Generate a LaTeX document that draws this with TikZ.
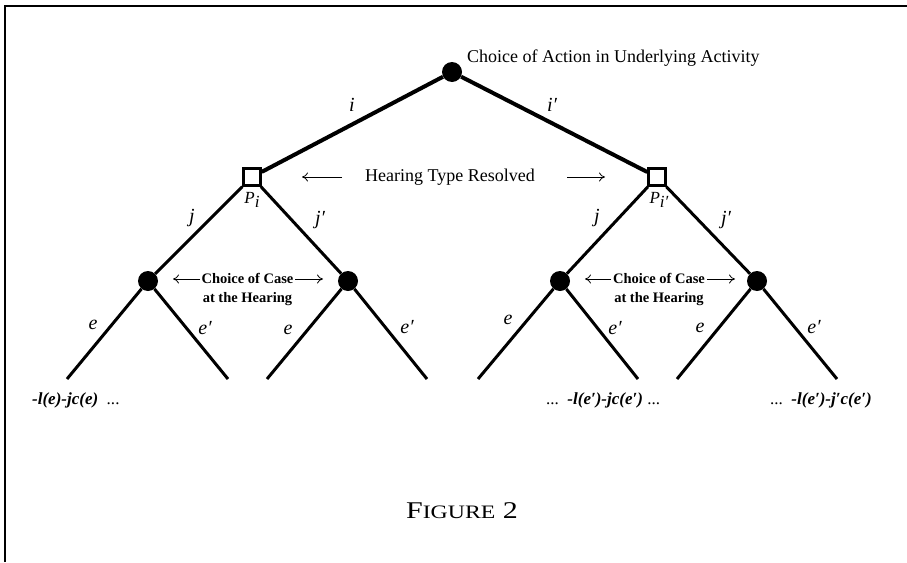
\documentclass[tikz,border=0pt]{standalone}
\usepackage{fontspec}
\setmainfont{Liberation Serif}
\usetikzlibrary{arrows.meta}
\begin{document}
\begin{tikzpicture}[x=1pt,y=-1pt,
  dot/.style={circle,fill=black,inner sep=0pt,minimum size=20pt},
  sq/.style={draw,line width=2.5pt,fill=white,inner sep=0pt,minimum size=17pt},
  edgeA/.style={line width=4pt},
  edgeB/.style={line width=3pt},
  lbl/.style={font=\fontsize{20}{20}\selectfont\itshape,inner sep=0pt},
  pay/.style={font=\fontsize{17}{17}\selectfont\bfseries\itshape,inner sep=0pt,anchor=west},
  ttl/.style={font=\fontsize{18}{18}\selectfont,inner sep=0pt},
  cas/.style={font=\fontsize{14.5}{19}\selectfont\bfseries,align=center,inner sep=0pt},
  harr/.style={-{To[length=6pt,width=9pt]},line width=0.8pt}]
\useasboundingbox (0,0) rectangle (907,562);
\draw[line width=2.5pt] (5,562) -- (5,6) -- (907,6);

% nodes
\node[dot] (r) at (452,72) {};
\node[sq] (pl) at (252,177) {};
\node[sq] (pr) at (657,177) {};
\node[dot] (c1) at (148,281) {};
\node[dot] (c2) at (348,281) {};
\node[dot] (c3) at (560,281) {};
\node[dot] (c4) at (757,281) {};
\coordinate (l1) at (67,379);
\coordinate (l2) at (228,379);
\coordinate (l3) at (267,379);
\coordinate (l4) at (427,379);
\coordinate (l5) at (478,379);
\coordinate (l6) at (638,379);
\coordinate (l7) at (677,379);
\coordinate (l8) at (837,379);

% edges
\draw[edgeA] (r) -- (pl);
\draw[edgeA] (r) -- (pr);
\draw[edgeB] (pl) -- (c1);
\draw[edgeB] (pl) -- (c2);
\draw[edgeB] (pr) -- (c3);
\draw[edgeB] (pr) -- (c4);
\draw[edgeB] (c1) -- (l1);
\draw[edgeB] (c1) -- (l2);
\draw[edgeB] (c2) -- (l3);
\draw[edgeB] (c2) -- (l4);
\draw[edgeB] (c3) -- (l5);
\draw[edgeB] (c3) -- (l6);
\draw[edgeB] (c4) -- (l7);
\draw[edgeB] (c4) -- (l8);

% edge labels
\node[lbl] (li) at (352,105) {i};
\node[lbl] (lip) at (552,105) {i′};
\node[lbl] (lj1) at (192,218) {j};
\node[lbl] (ljp1) at (320,220) {j′};
\node[lbl] (lj2) at (597,218) {j};
\node[lbl] (ljp2) at (726,220) {j′};
\node[lbl] (le1) at (93,325) {e};
\node[lbl] (lep1) at (205,328) {e′};
\node[lbl] (le2) at (288,330) {e};
\node[lbl] (lep2) at (407,327) {e′};
\node[lbl] (le3) at (508,320) {e};
\node[lbl] (lep3) at (615,328) {e′};
\node[lbl] (le4) at (700,328) {e};
\node[lbl] (lep4) at (814,327) {e′};

% player labels
\node[font=\fontsize{17}{17}\selectfont\itshape,inner sep=0pt] (pli) at (252,200) {P\raisebox{-4pt}{i}};
\node[font=\fontsize{17}{17}\selectfont\itshape,inner sep=0pt] (pri) at (659,200) {P\raisebox{-4pt}{i′}};

% titles
\node[ttl,anchor=west] (top) at (467,58) {Choice of Action in Underlying Activity};
\node[ttl] (htr) at (450,177) {Hearing Type Resolved};
\coordinate (ha1s) at (342,177); \coordinate (ha1e) at (302,177);
\coordinate (ha2s) at (567,177); \coordinate (ha2e) at (605,177);
\draw[harr] (ha1s) -- (ha1e);
\draw[harr] (ha2s) -- (ha2e);

\node[cas] (cc1) at (247.5,289) {Choice of Case\\at the Hearing};
\node[cas] (cc2) at (659,289) {Choice of Case\\at the Hearing};
\coordinate (a1s) at (200,279); \coordinate (a1e) at (173,279);
\coordinate (a2s) at (295,279); \coordinate (a2e) at (323,279);
\coordinate (a3s) at (611,279); \coordinate (a3e) at (585,279);
\coordinate (a4s) at (707,279); \coordinate (a4e) at (735,279);
\draw[harr] (a1s) -- (a1e);
\draw[harr] (a2s) -- (a2e);
\draw[harr] (a3s) -- (a3e);
\draw[harr] (a4s) -- (a4e);

% payoffs
\node[pay] (p1) at (32,400) {-l(e)-jc(e)\enspace{\mdseries\upshape ...}};
\node[pay] (p2) at (546,400) {{\mdseries\upshape ...}\enspace -l(e′)-jc(e′) {\mdseries\upshape ...}};
\node[pay] (p3) at (770,400) {{\mdseries\upshape ...}\enspace -l(e′)-j′c(e′)};

% caption
\node[inner sep=0pt] (fig) at (462,511) {\scalebox{1.25}[1]{\fontsize{24}{24}\selectfont F{\fontsize{19}{19}\selectfont IGURE} 2}};
\end{tikzpicture}
\end{document}
